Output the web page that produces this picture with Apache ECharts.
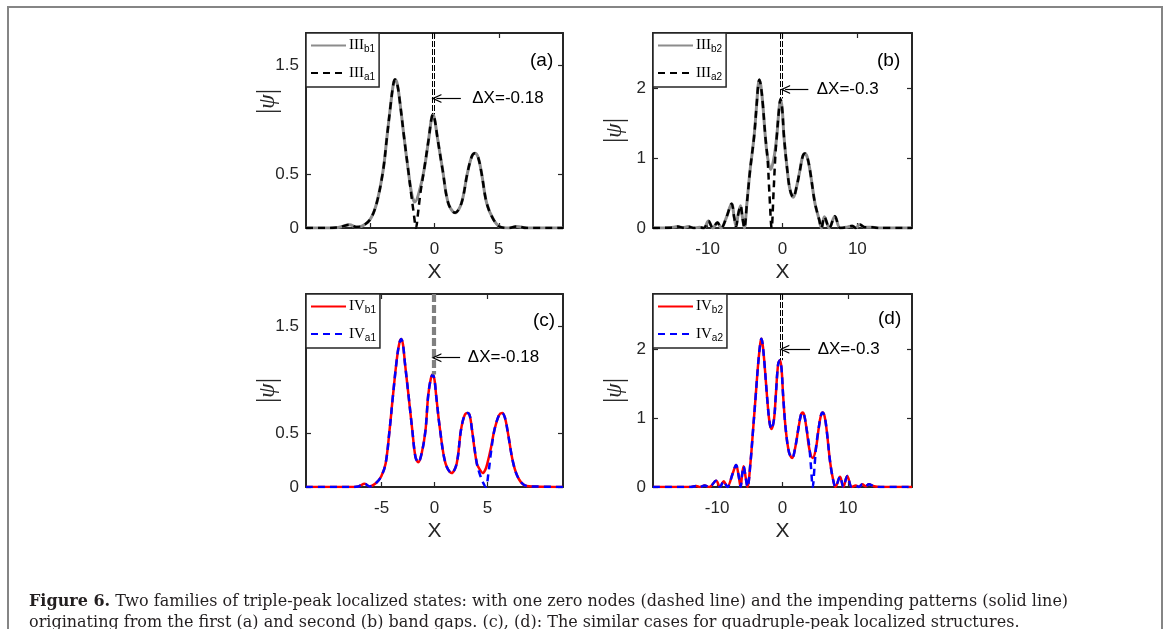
<!DOCTYPE html>
<html><head><meta charset="utf-8">
<script src="https://cdn.jsdelivr.net/npm/echarts@6/dist/echarts.min.js"></script>
<style>html,body{margin:0;padding:0;background:#fff}#c{width:1170px;height:629px}</style>
</head><body><div id="c"></div>
<script>
// ---------- data ----------
// (a) triple-peak, first gap
const aSolid = [[-10,0],[-8.5,0],[-7.5,0.005],[-6.6,0.03],[-6.1,0.01],[-5.6,0.02],[-5.0,0.08],[-4.5,0.23],[-4.0,0.53],[-3.7,0.84],[-3.4,1.15],[-3.2,1.33],[-3.07,1.37],[-2.9,1.33],[-2.68,1.15],[-2.37,0.84],[-2.04,0.53],[-1.75,0.3],[-1.52,0.24],[-1.2,0.33],[-0.82,0.53],[-0.43,0.84],[-0.25,1.0],[-0.12,1.05],[0.02,1.0],[0.22,0.84],[0.64,0.53],[1.07,0.23],[1.6,0.14],[2.1,0.23],[2.55,0.5],[2.9,0.66],[3.15,0.69],[3.4,0.65],[3.67,0.5],[4.06,0.23],[4.58,0.08],[5.1,0.01],[5.8,0],[6.4,0.015],[7.2,0],[10,0]];
const aDashed = [[-10,0],[-8.5,0],[-7.5,0.005],[-6.6,0.03],[-6.1,0.01],[-5.6,0.02],[-5.0,0.08],[-4.5,0.23],[-4.0,0.53],[-3.7,0.84],[-3.4,1.15],[-3.2,1.33],[-3.07,1.37],[-2.9,1.33],[-2.68,1.15],[-2.37,0.84],[-2.04,0.53],[-1.8,0.3],[-1.62,0.14],[-1.44,0],[-1.28,0.14],[-1.1,0.32],[-0.82,0.53],[-0.43,0.84],[-0.25,1.0],[-0.12,1.05],[0.02,1.0],[0.22,0.84],[0.64,0.53],[1.07,0.23],[1.6,0.14],[2.1,0.23],[2.55,0.5],[2.9,0.66],[3.15,0.69],[3.4,0.65],[3.67,0.5],[4.06,0.23],[4.58,0.08],[5.1,0.01],[5.8,0],[6.4,0.015],[7.2,0],[10,0]];
// (b) triple-peak, second gap
const bSolid = [[-17.3,0],[-15,0.005],[-14,0.02],[-13.3,0.005],[-12.6,0.02],[-11.8,0],[-11.1,0.01],[-10.5,0],[-9.9,0.1],[-9.3,0],[-8.7,0.08],[-8.2,0],[-7.5,0.15],[-6.8,0.35],[-6.45,0.15],[-6.2,0.02],[-5.95,0.18],[-5.6,0.32],[-5.35,0.15],[-5.1,0],[-4.75,0.36],[-4.33,0.83],[-3.8,1.31],[-3.44,1.79],[-3.25,2.05],[-3.1,2.13],[-2.9,2.05],[-2.64,1.79],[-2.29,1.31],[-2.0,1.02],[-1.57,0.84],[-1.15,1.0],[-0.77,1.31],[-0.45,1.72],[-0.27,1.85],[-0.05,1.72],[0.2,1.31],[0.64,0.83],[1.0,0.55],[1.44,0.44],[1.9,0.6],[2.33,0.83],[2.7,1.03],[3.0,1.07],[3.3,1.02],[3.67,0.83],[4.33,0.36],[4.9,0.12],[5.2,0],[5.6,0.16],[6.25,0],[7.0,0.17],[7.7,0],[8.5,0.01],[9.3,0.03],[9.8,0],[10.3,0.05],[11,0.01],[12,0.01],[13,0],[17.3,0]];
const bDashed = [[-17.3,0],[-15,0.005],[-14,0.02],[-13.3,0.005],[-12.6,0.02],[-11.8,0],[-11.1,0.01],[-10.5,0],[-9.9,0.1],[-9.3,0],[-8.7,0.08],[-8.2,0],[-7.5,0.15],[-6.8,0.35],[-6.45,0.15],[-6.2,0.02],[-5.95,0.18],[-5.6,0.32],[-5.35,0.15],[-5.1,0],[-4.75,0.36],[-4.33,0.83],[-3.8,1.31],[-3.44,1.79],[-3.25,2.05],[-3.1,2.13],[-2.9,2.05],[-2.64,1.79],[-2.29,1.31],[-2.0,1.0],[-1.75,0.5],[-1.45,0],[-1.2,0.5],[-0.95,1.05],[-0.77,1.31],[-0.45,1.72],[-0.27,1.85],[-0.05,1.72],[0.2,1.31],[0.64,0.83],[1.0,0.55],[1.44,0.44],[1.9,0.6],[2.33,0.83],[2.7,1.03],[3.0,1.07],[3.3,1.02],[3.67,0.83],[4.33,0.36],[4.9,0.12],[5.2,0],[5.6,0.16],[6.25,0],[7.0,0.17],[7.7,0],[8.5,0.01],[9.3,0.03],[9.8,0],[10.3,0.05],[11,0.01],[12,0.01],[13,0],[17.3,0]];
// (c) quadruple-peak, first gap
const cSolid = [[-12.15,0],[-8,0],[-7.2,0.005],[-6.6,0.03],[-6.15,0.005],[-5.5,0.04],[-5.03,0.1],[-4.62,0.22],[-4.25,0.53],[-3.93,0.85],[-3.6,1.16],[-3.35,1.33],[-3.15,1.38],[-2.98,1.33],[-2.8,1.16],[-2.45,0.85],[-2.1,0.53],[-1.8,0.28],[-1.53,0.23],[-1.2,0.32],[-0.85,0.53],[-0.6,0.85],[-0.35,1.01],[-0.17,1.05],[0.0,1.0],[0.16,0.85],[0.53,0.53],[1.04,0.22],[1.62,0.13],[2.1,0.22],[2.5,0.53],[2.85,0.67],[3.13,0.69],[3.35,0.66],[3.55,0.53],[4.0,0.22],[4.3,0.16],[4.55,0.13],[4.8,0.16],[5.0,0.22],[5.35,0.37],[5.66,0.53],[6.1,0.67],[6.4,0.69],[6.65,0.65],[6.9,0.53],[7.45,0.22],[8.0,0.07],[8.7,0.01],[9.5,0.005],[12.15,0]];
const cDashed = [[-12.15,0],[-8,0],[-7.2,0.005],[-6.6,0.03],[-6.15,0.005],[-5.5,0.04],[-5.03,0.1],[-4.62,0.22],[-4.25,0.53],[-3.93,0.85],[-3.6,1.16],[-3.35,1.33],[-3.15,1.38],[-2.98,1.33],[-2.8,1.16],[-2.45,0.85],[-2.1,0.53],[-1.8,0.28],[-1.53,0.23],[-1.2,0.32],[-0.85,0.53],[-0.6,0.85],[-0.35,1.01],[-0.17,1.05],[0.0,1.0],[0.16,0.85],[0.53,0.53],[1.04,0.22],[1.62,0.13],[2.1,0.22],[2.5,0.53],[2.85,0.67],[3.13,0.69],[3.35,0.66],[3.55,0.53],[4.0,0.22],[4.25,0.13],[4.55,0.05],[4.85,0],[5.1,0.13],[5.35,0.33],[5.66,0.53],[6.1,0.67],[6.4,0.69],[6.65,0.65],[6.9,0.53],[7.45,0.22],[8.0,0.07],[8.7,0.01],[9.5,0.005],[12.15,0]];
// (d) quadruple-peak, second gap
const dSolid = [[-19.8,0],[-14,0],[-13.2,0.015],[-12.7,0],[-11.9,0.02],[-11.2,0],[-10.15,0.09],[-9.55,0],[-9.0,0.085],[-8.45,0],[-7.6,0.2],[-7.1,0.32],[-6.7,0.16],[-6.4,0],[-6.2,0.16],[-5.95,0.3],[-5.65,0.15],[-5.35,0],[-4.9,0.35],[-4.5,0.83],[-4.1,1.32],[-3.7,1.81],[-3.4,2.08],[-3.23,2.15],[-3.05,2.08],[-2.77,1.81],[-2.37,1.32],[-2.0,0.95],[-1.69,0.84],[-1.3,0.98],[-1.03,1.32],[-0.67,1.78],[-0.38,1.84],[-0.15,1.72],[0.1,1.32],[0.5,0.83],[1.0,0.5],[1.48,0.42],[2.0,0.6],[2.4,0.83],[2.8,1.04],[3.08,1.08],[3.35,1.03],[3.7,0.83],[4.1,0.55],[4.62,0.42],[5.1,0.55],[5.5,0.83],[5.85,1.03],[6.15,1.08],[6.45,1.02],[6.75,0.83],[7.3,0.35],[7.75,0.1],[8.1,0],[8.8,0.15],[9.3,0],[9.9,0.16],[10.6,0],[11.2,0.02],[11.7,0],[12.2,0.04],[12.7,0.01],[13.2,0.04],[14,0.01],[15,0],[19.8,0]];
const dDashed = [[-19.8,0],[-14,0],[-13.2,0.015],[-12.7,0],[-11.9,0.02],[-11.2,0],[-10.15,0.09],[-9.55,0],[-9.0,0.085],[-8.45,0],[-7.6,0.2],[-7.1,0.32],[-6.7,0.16],[-6.4,0],[-6.2,0.16],[-5.95,0.3],[-5.65,0.15],[-5.35,0],[-4.9,0.35],[-4.5,0.83],[-4.1,1.32],[-3.7,1.81],[-3.4,2.08],[-3.23,2.15],[-3.05,2.08],[-2.77,1.81],[-2.37,1.32],[-2.0,0.95],[-1.69,0.84],[-1.3,0.98],[-1.03,1.32],[-0.67,1.78],[-0.38,1.84],[-0.15,1.72],[0.1,1.32],[0.5,0.83],[1.0,0.5],[1.48,0.42],[2.0,0.6],[2.4,0.83],[2.8,1.04],[3.08,1.08],[3.35,1.03],[3.7,0.83],[4.1,0.58],[4.35,0.3],[4.62,0],[4.9,0.3],[5.15,0.6],[5.5,0.83],[5.85,1.03],[6.15,1.08],[6.45,1.02],[6.75,0.83],[7.3,0.35],[7.75,0.1],[8.1,0],[8.8,0.15],[9.3,0],[9.9,0.16],[10.6,0],[11.2,0.02],[11.7,0],[12.2,0.04],[12.7,0.01],[13.2,0.04],[14,0.01],[15,0],[19.8,0]];

// axis ranges and tick labels
const xRangeA = [-10, 10], xRangeB = [-17.3, 17.3], xRangeC = [-12.15, 12.15], xRangeD = [-19.8, 19.8];
const yRangeA = [0, 1.8], yRangeB = [0, 2.8], yRangeC = [0, 1.8], yRangeD = [0, 2.8];
const xTicksA = [-5, 0, 5], xTicksB = [-10, 0, 10], xTicksC = [-5, 0, 5], xTicksD = [-10, 0, 10];
const yTicksA = [0, 0.5, 1.5], yTicksB = [0, 1, 2], yTicksC = [0, 0.5, 1.5], yTicksD = [0, 1, 2];
const seriesNames = [['IIIb1','IIIa1'],['IIIb2','IIIa2'],['IVb1','IVa1'],['IVb2','IVa2']];
const shifts = ['ΔX=-0.18', 'ΔX=-0.3', 'ΔX=-0.18', 'ΔX=-0.3'];
const panelTags = ['(a)', '(b)', '(c)', '(d)'];

// ---------- chart ----------
const AX = '#262626';
const SANS = 'Liberation Sans';
const SERIF = 'Liberation Serif';
const grids = [
  {left:306, top:33, width:257, height:195},
  {left:653, top:33, width:259, height:195},
  {left:306, top:294, width:257, height:193},
  {left:653, top:294, width:259, height:193}
];
const xRanges = [xRangeA, xRangeB, xRangeC, xRangeD];
const yRanges = [yRangeA, yRangeB, yRangeC, yRangeD];
const xTicks = [xTicksA, xTicksB, xTicksC, xTicksD];
const yTicks = [yTicksA, yTicksB, yTicksC, yTicksD];
const solids = [aSolid, bSolid, cSolid, dSolid];
const dasheds = [aDashed, bDashed, cDashed, dDashed];

const xAxis = [], yAxis = [], series = [], legend = [];
const arrowHead = 'path://M0,10 L5,0 L10,10 L8.6,10 L5,3 L1.4,10 Z';
// annotation geometry (data units)
const vlines = [
  {xs:[-0.18, 0], y0:1.8, y1:1.05, color:'#000', width:1, dash:[6,2]},
  {xs:[-0.3, 0], y0:2.8, y1:1.86, color:'#000', width:1, dash:[6,2]},
  {xs:[-0.12, 0.02], y0:1.8, y1:1.05, color:'#808080', width:2.2, dash:[8,3]},
  {xs:[-0.3, 0], y0:2.8, y1:1.84, color:'#000', width:1, dash:[6,2]}
];
const arrows = [
  {tail:2.05, tip:0.15, y:1.195, text:2.9},
  {tail:3.45, tip:0.35, y:1.99, text:4.5},
  {tail:2.42, tip:0.18, y:1.206, text:3.1},
  {tail:4.2, tip:0.28, y:2.0, text:5.3}
];

for (let i = 0; i < 4; i++) {
  const common = {type:'value', gridIndex:i, min:xRanges[i][0], max:xRanges[i][1],
    splitLine:{show:false}, axisLine:{onZero:false, lineStyle:{color:AX, width:2}}};
  xAxis.push(Object.assign({}, common, {position:'bottom',
    axisTick:{inside:true, length:5, customValues:xTicks[i], lineStyle:{color:AX, width:1.2}},
    axisLabel:{customValues:xTicks[i], fontSize:17, color:AX, fontFamily:SANS, margin:13},
    name:'X', nameLocation:'middle', nameGap:34, nameMoveOverlap:false,
    nameTextStyle:{fontSize:21, color:AX, fontFamily:SANS}}));
  xAxis.push(Object.assign({}, common, {position:'top',
    axisTick:{inside:true, length:5, customValues:xTicks[i], lineStyle:{color:AX, width:1.2}},
    axisLabel:{show:false}}));
  const ycommon = {type:'value', gridIndex:i, min:yRanges[i][0], max:yRanges[i][1],
    splitLine:{show:false}, axisLine:{show:true, onZero:false, lineStyle:{color:AX, width:2}}};
  yAxis.push(Object.assign({}, ycommon, {position:'left',
    axisTick:{show:true, inside:true, length:5, customValues:yTicks[i], lineStyle:{color:AX, width:1.2}},
    axisLabel:{customValues:yTicks[i], fontSize:17, color:AX, fontFamily:SANS, margin:7},
    name:'{a||}{p|ψ}{a||}', nameLocation:'middle', nameGap:25, nameMoveOverlap:false,
    nameTextStyle:{padding: i === 0 ? [0,0,0,58] : 0, rich:{a:{fontSize:27, fontFamily:SERIF, color:AX}, p:{fontSize:23, fontFamily:SERIF, fontStyle:'italic', color:AX}}}}));
  yAxis.push(Object.assign({}, ycommon, {position:'right',
    axisTick:{show:true, inside:true, length:5, customValues:yTicks[i], lineStyle:{color:AX, width:1.2}},
    axisLabel:{show:false}}));

  const red = i >= 2;
  const vl = vlines[i], ar = arrows[i];
  series.push({type:'line', name:seriesNames[i][0], xAxisIndex:2*i, yAxisIndex:2*i,
    data:solids[i], showSymbol:false, symbol:'none', smooth:0.35, animation:false,
    lineStyle:{color: red ? '#ff0000' : '#8c8c8c', width: red ? 2.5 : 3},
    itemStyle:{color: red ? '#ff0000' : '#8c8c8c'}});
  series.push({type:'line', name:seriesNames[i][1], xAxisIndex:2*i, yAxisIndex:2*i,
    data:dasheds[i], showSymbol:false, symbol:'none', smooth:0.35, animation:false, z:3,
    lineStyle:{color: red ? '#0000ff' : '#000000', width:2.5, type:[7,5]},
    itemStyle:{color: red ? '#0000ff' : '#000000'},
    markLine:{silent:true, animation:false, symbol:['none','none'], label:{show:false},
      data:[
        ...vl.xs.map(x => [{coord:[x, vl.y0], lineStyle:{color:vl.color, width:vl.width, type:vl.dash}},
                           {coord:[x, vl.y1]}]),
        [{coord:[ar.tail, ar.y], symbol:'none', lineStyle:{color:'#000', width:1.2, type:'solid'}},
         {coord:[ar.tip, ar.y], symbol:arrowHead, symbolSize:[9,10]}]
      ]},
    markPoint:{silent:true, animation:false, data:[{coord:[ar.text, ar.y], symbol:'circle', symbolSize:1,
      itemStyle:{color:'rgba(0,0,0,0)'},
      label:{show:true, position:'right', distance:0, formatter:shifts[i], fontSize:17, color:'#000', fontFamily:SANS}}]}
  });

  legend.push({orient:'vertical', left:grids[i].left, top:grids[i].top, padding:[5,4,5,4],
    itemGap:11, itemWidth:35, itemHeight:14, backgroundColor:'#fff',
    borderColor:AX, borderWidth:1.5, data:seriesNames[i],
    itemStyle:{opacity:0},
    formatter: n => '{r|' + n.replace(/[ab]\d$/, '') + '}{s|' + n.slice(-2) + '}',
    textStyle:{padding:[0,0,0,-2], rich:{r:{fontFamily:SERIF, fontSize:15, color:'#000'}, s:{fontFamily:SANS, fontSize:10, color:'#000', padding:[8,0,0,0]}}}});
}

const tagPos = [[530,51],[877,51],[533,311],[878,309]];
const CAP = 'DejaVu Serif';
const graphic = [
  {type:'rect', shape:{x:8, y:7, width:1154, height:700}, style:{fill:'none', stroke:'#858585', lineWidth:2}, silent:true},
  ...panelTags.map((t, i) => ({type:'text', left:tagPos[i][0], top:tagPos[i][1], style:{text:t, font:'19px "Liberation Sans"', fill:'#000'}})),
  {type:'text', left:29, top:594, style:{text:'{b|Figure 6.} Two families of triple-peak localized states: with one zero nodes (dashed line) and the impending patterns (solid line)',
    font:'16px "DejaVu Serif"', fill:'#231f20', rich:{b:{fontWeight:'bold', fontFamily:CAP, fontSize:16, fill:'#231f20'}}}},
  {type:'text', left:29, top:615, style:{text:'originating from the first (a) and second (b) band gaps. (c), (d): The similar cases for quadruple-peak localized structures.',
    font:'16px "DejaVu Serif"', fill:'#231f20'}}
];

const chart = echarts.init(document.getElementById('c'), null, {renderer:'canvas'});
chart.setOption({animation:false, backgroundColor:'#fff', grid:grids, xAxis, yAxis, series, legend, graphic});
</script></body></html>
